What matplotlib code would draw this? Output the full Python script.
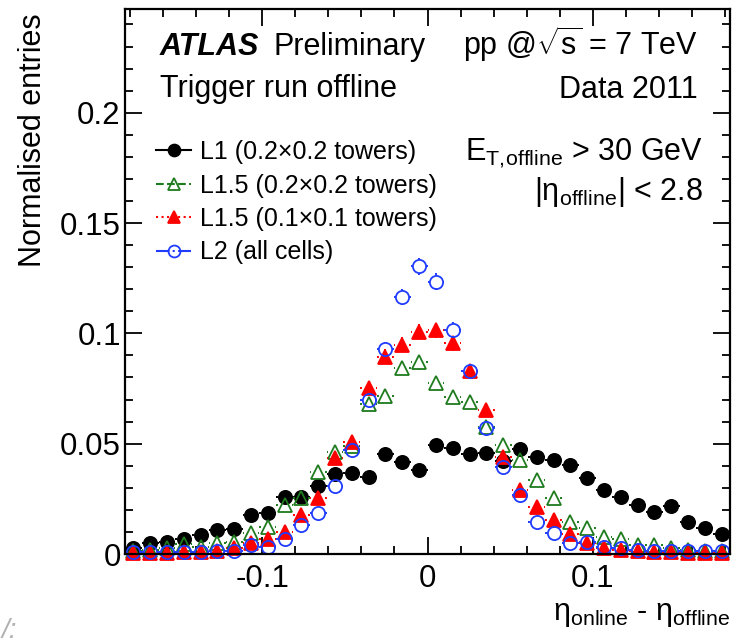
import numpy as np
import matplotlib
matplotlib.use('Agg')
import matplotlib.pyplot as plt
from matplotlib.ticker import MultipleLocator, FuncFormatter
from matplotlib.lines import Line2D

plt.rcParams['font.family'] = ['Liberation Sans', 'DejaVu Sans']
plt.rcParams['mathtext.fontset'] = 'custom'
plt.rcParams['mathtext.rm'] = 'Liberation Sans'
plt.rcParams['mathtext.it'] = 'Liberation Sans:italic'
plt.rcParams['axes.unicode_minus'] = False

# --- data: 36 bins of eta_online - eta_offline ---
x_lo, x_hi = -0.1833, 0.1833
y_hi = 0.247
n_bins = 36

l1 = [0.0026, 0.0049, 0.0053, 0.0067, 0.0086, 0.0109, 0.0112, 0.0177, 0.0185, 0.0257,
      0.0257, 0.0308, 0.0363, 0.0366, 0.0351, 0.0455, 0.0419, 0.0381, 0.0493, 0.0479,
      0.0451, 0.0456, 0.0420, 0.0478, 0.0438, 0.0425, 0.0402, 0.0346, 0.0290, 0.0260,
      0.0222, 0.0189, 0.0218, 0.0144, 0.0117, 0.0091]
l15_02 = [0.0015, 0.0020, 0.0025, 0.0045, 0.0030, 0.0049, 0.0056, 0.0094, 0.0124, 0.0222,
          0.0253, 0.0373, 0.0464, 0.0490, 0.0680, 0.0717, 0.0842, 0.0868, 0.0777, 0.0713,
          0.0688, 0.0575, 0.0494, 0.0426, 0.0336, 0.0253, 0.0146, 0.0117, 0.0078, 0.0067,
          0.0041, 0.0041, 0.0026, 0.0020, 0.0015, 0.0015]
l15_01 = [0.0006, 0.0006, 0.0006, 0.0007, 0.0010, 0.0015, 0.0026, 0.0049, 0.0067, 0.0101,
          0.0177, 0.0253, 0.0434, 0.0509, 0.0751, 0.0895, 0.0948, 0.1008, 0.1013, 0.0956,
          0.0830, 0.0653, 0.0441, 0.0290, 0.0215, 0.0154, 0.0091, 0.0049, 0.0026, 0.0018,
          0.0015, 0.0010, 0.0007, 0.0006, 0.0006, 0.0006]
l2 = [0.0008, 0.0008, 0.0008, 0.0010, 0.0010, 0.0015, 0.0015, 0.0041, 0.0033, 0.0067,
      0.0132, 0.0185, 0.0308, 0.0470, 0.0698, 0.0928, 0.1164, 0.1303, 0.1235, 0.1016,
      0.0830, 0.0570, 0.0393, 0.0268, 0.0146, 0.0094, 0.0049, 0.0056, 0.0033, 0.0026,
      0.0018, 0.0015, 0.0015, 0.0012, 0.0012, 0.0012]

labels = ['L1 (0.2×0.2 towers)', 'L1.5 (0.2×0.2 towers)',
          'L1.5 (0.1×0.1 towers)', 'L2 (all cells)']

edges = np.linspace(x_lo, x_hi, n_bins + 1)
centers = 0.5 * (edges[1:] + edges[:-1])
half_w = 0.5 * (edges[1] - edges[0])

W, H = 745, 644
ax_px = (125, 9, 730, 554)  # left, top, right, bottom in pixels
fig = plt.figure(figsize=(W / 100, H / 100), dpi=100)
ax = fig.add_axes([ax_px[0] / W, 1 - ax_px[3] / H,
                   (ax_px[2] - ax_px[0]) / W, (ax_px[3] - ax_px[1]) / H])

# pixel -> data conversion, used to leave a gap for the marker (ROOT style)
dx_per_px = (x_hi - x_lo) / (ax_px[2] - ax_px[0])
dy_per_px = y_hi / (ax_px[3] - ax_px[1])

styles = [
    dict(color='black', marker='o', mfc='black', ls='-', ms=9.5),
    dict(color='#1e7b1e', marker='^', mfc='none', ls='--', ms=10),
    dict(color='red', marker='^', mfc='red', ls=':', ms=10),
    dict(color='#1f3cff', marker='o', mfc='none', ls='-.', ms=9.5),
]

handles = []
for vals, st, lab in zip([l1, l15_02, l15_01, l2], styles, labels):
    v = np.array(vals)
    err = 0.011 * np.sqrt(v)  # rough statistical error bars
    r_px = st['ms'] * 1.39 / 2
    rx, ry = r_px * dx_per_px, r_px * dy_per_px
    # horizontal bars outside the marker
    ax.hlines(v, centers - half_w, centers - rx, color=st['color'], ls=st['ls'], lw=1.4)
    ax.hlines(v, centers + rx, centers + half_w, color=st['color'], ls=st['ls'], lw=1.4)
    # vertical bars outside the marker
    big = err > ry
    ax.vlines(centers[big], v[big] + ry, v[big] + err[big], color=st['color'], lw=1.4)
    ax.vlines(centers[big], np.maximum(v[big] - err[big], 0), v[big] - ry,
              color=st['color'], lw=1.4)
    ax.plot(centers, v, ls='none', marker=st['marker'], color=st['color'],
            mfc=st['mfc'], mec=st['color'], ms=st['ms'], mew=1.3, clip_on=False)
    handles.append(Line2D([], [], color=st['color'], ls=st['ls'], lw=1.5,
                          marker=st['marker'], mfc=st['mfc'], mec=st['color'],
                          ms=st['ms'] * 0.9, mew=1.3))

ax.set_xlim(x_lo, x_hi)
ax.set_ylim(0, y_hi)
ax.xaxis.set_major_locator(MultipleLocator(0.1))
ax.xaxis.set_minor_locator(MultipleLocator(0.02))
ax.yaxis.set_major_locator(MultipleLocator(0.05))
ax.yaxis.set_minor_locator(MultipleLocator(0.01))
fmt = FuncFormatter(lambda v, p: '0' if abs(v) < 1e-9 else f'{v:g}')
ax.xaxis.set_major_formatter(fmt)
ax.yaxis.set_major_formatter(fmt)
ax.tick_params(which='both', direction='in', top=True, right=True, width=1.3,
               labelsize=22.5)
ax.tick_params(which='major', length=12)
ax.tick_params(which='minor', length=6)
ax.tick_params(axis='x', pad=7)
ax.tick_params(axis='y', pad=3)
for s in ax.spines.values():
    s.set_linewidth(1.6)


def fx(px):
    return px / W


def fy(py):
    return 1 - py / H


fig.text(fx(160), fy(55), 'ATLAS', fontsize=22, fontweight='bold', style='italic')
fig.text(fx(273), fy(55), 'Preliminary', fontsize=22)
fig.text(fx(160), fy(97), 'Trigger run offline', fontsize=22)
fig.text(fx(698), fy(55), r'pp @$\sqrt{\mathregular{s}}$ = 7 TeV', fontsize=22, ha='right')
fig.text(fx(698), fy(98), 'Data 2011', fontsize=22, ha='right')
fig.text(fx(703), fy(160), r'$\mathregular{E_{T,\!offline}}$ > 30 GeV', fontsize=22, ha='right')
fig.text(fx(703), fy(200), r'$\mathregular{|\eta_{offline}|}$ < 2.8', fontsize=22, ha='right')

fig.text(fx(33), fy(13), 'Normalised entries', fontsize=22, rotation=90,
         ha='center', va='top')
fig.text(fx(730), fy(614), r'$\mathregular{\eta_{online}}$ - $\mathregular{\eta_{offline}}$',
         fontsize=22, ha='right', va='center')
fig.text(fx(2), fy(638), '/:', fontsize=20, color='#b0b0b0', style='italic')

ax.legend(handles, labels, loc='upper left', bbox_to_anchor=(fx(156), fy(140)),
          bbox_transform=fig.transFigure, frameon=False, fontsize=18,
          handlelength=1.4, handletextpad=0.35, labelspacing=0.38,
          borderpad=0, borderaxespad=0)

fig.savefig('out.png', dpi=100)
